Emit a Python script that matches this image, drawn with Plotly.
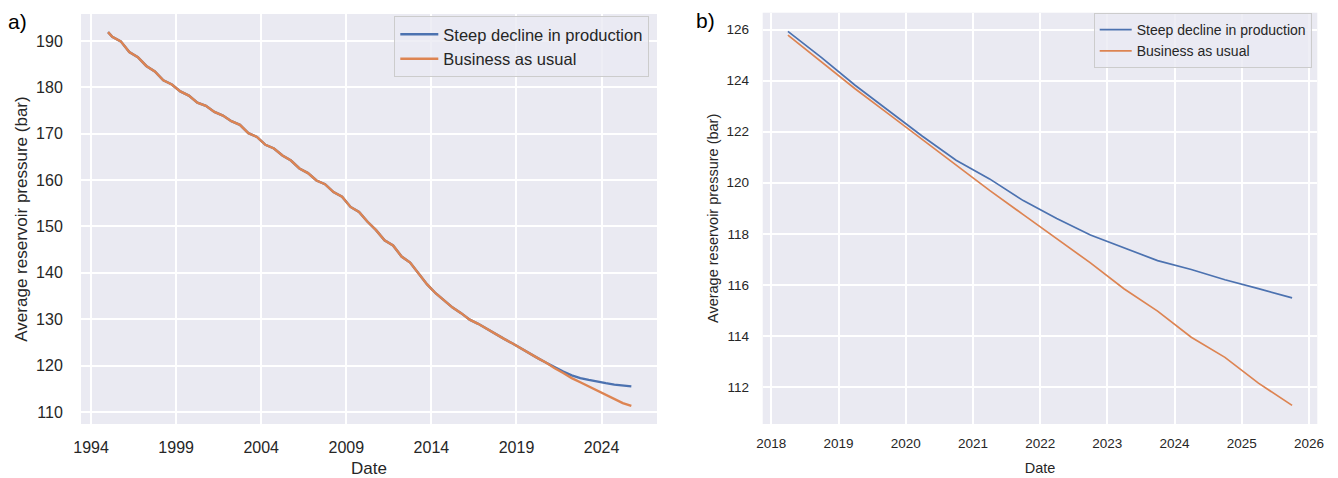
import plotly.graph_objects as go

# ---------------- Panel a: full history 1995-2025 ----------------
hist_dates_a = [
    "1995-01-01", "1995-04-01", "1995-10-01", "1996-04-01", "1996-10-01",
    "1997-04-01", "1997-10-01", "1998-04-01", "1998-10-01", "1999-04-01",
    "1999-10-01", "2000-04-01", "2000-10-01", "2001-04-01", "2001-10-01",
    "2002-04-01", "2002-10-01", "2003-04-01", "2003-10-01", "2004-04-01",
    "2004-10-01", "2005-04-01", "2005-10-01", "2006-04-01", "2006-10-01",
    "2007-04-01", "2007-10-01", "2008-04-01", "2008-10-01", "2009-04-01",
    "2009-10-01", "2010-04-01", "2010-10-01", "2011-04-01", "2011-10-01",
    "2012-04-01", "2012-10-01", "2013-04-01", "2013-10-01", "2014-04-01",
    "2014-10-01", "2015-04-01", "2015-10-01", "2016-04-01", "2016-10-01",
    "2017-04-01", "2017-10-01", "2018-04-01", "2018-10-01", "2019-04-01",
    "2019-10-01", "2020-04-01", "2020-10-01",
]
hist_pressure_a = [
    191.9, 190.9, 189.9, 187.6, 186.5,
    184.6, 183.4, 181.5, 180.6, 179.1,
    178.2, 176.7, 176.0, 174.7, 173.9,
    172.7, 171.9, 170.1, 169.3, 167.6,
    166.8, 165.3, 164.2, 162.5, 161.5,
    159.9, 159.1, 157.4, 156.4, 154.2,
    153.1, 151.0, 149.2, 147.0, 145.9,
    143.5, 142.2, 139.8, 137.5, 135.6,
    134.0, 132.5, 131.3, 129.9, 129.0,
    127.9, 126.9, 125.8, 124.8, 123.7,
    122.7, 121.6, 120.6,
]

scen_dates_a = [
    "2021-04-01", "2021-10-01", "2022-04-01", "2022-10-01", "2023-04-01",
    "2023-10-01", "2024-04-01", "2024-10-01", "2025-04-01", "2025-10-01",
]
steep_pressure_a = [119.6, 118.7, 117.9, 117.3, 116.9, 116.5, 116.2, 115.9, 115.7, 115.5]
bau_pressure_a = [119.4, 118.4, 117.3, 116.4, 115.5, 114.6, 113.7, 112.8, 111.9, 111.3]

tick_years_a = [1994, 1999, 2004, 2009, 2014, 2019, 2024]
yticks_a = [110, 120, 130, 140, 150, 160, 170, 180, 190]

# ---------------- Panel b: forecast window 2018-2025 ----------------
dates_b = [
    "2018-04-01", "2018-10-01", "2019-04-01", "2019-10-01", "2020-04-01",
    "2020-10-01", "2021-04-01", "2021-10-01", "2022-04-01", "2022-10-01",
    "2023-04-01", "2023-10-01", "2024-04-01", "2024-10-01", "2025-04-01",
    "2025-10-01",
]
steep_pressure_b = [125.93, 124.9, 123.82, 122.82, 121.82, 120.88, 120.15, 119.3,
                    118.6, 117.95, 117.45, 116.95, 116.6, 116.2, 115.85, 115.49]
bau_pressure_b = [125.78, 124.72, 123.68, 122.69, 121.68, 120.67, 119.7, 118.75,
                  117.8, 116.86, 115.85, 114.97, 113.95, 113.16, 112.15, 111.28]

tick_years_b = [2018, 2019, 2020, 2021, 2022, 2023, 2024, 2025, 2026]
yticks_b = [112, 114, 116, 118, 120, 122, 124, 126]

series_names = ["Steep decline in production", "Business as usual"]

BLUE = "#4C72B0"
ORANGE = "#DD8452"
BG = "#EAEAF2"
TXT = "#262626"
FONT = "Liberation Sans, Arial, sans-serif"

W, H = 1338, 478


def px_x(p):
    return p / W


def px_y(p):
    return 1 - p / H


fig = go.Figure()

# panel a traces (the business-as-usual line is drawn last, on top)
fig.add_trace(go.Scatter(
    x=hist_dates_a + scen_dates_a, y=hist_pressure_a + steep_pressure_a,
    mode="lines", name=series_names[0], line=dict(color=BLUE, width=2.4),
    xaxis="x", yaxis="y", legend="legend"))
fig.add_trace(go.Scatter(
    x=hist_dates_a + scen_dates_a, y=hist_pressure_a + bau_pressure_a,
    mode="lines", name=series_names[1], line=dict(color=ORANGE, width=2.4),
    xaxis="x", yaxis="y", legend="legend"))

# panel b traces
fig.add_trace(go.Scatter(
    x=dates_b, y=steep_pressure_b, mode="lines", name=series_names[0],
    line=dict(color=BLUE, width=1.7), xaxis="x2", yaxis="y2", legend="legend2"))
fig.add_trace(go.Scatter(
    x=dates_b, y=bau_pressure_b, mode="lines", name=series_names[1],
    line=dict(color=ORANGE, width=1.7), xaxis="x2", yaxis="y2", legend="legend2"))

common_axis = dict(showline=False, zeroline=False, showgrid=True, gridcolor="white",
                   tickcolor="rgba(0,0,0,0)", ticks="outside", automargin=False)

fig.update_layout(
    width=W, height=H,
    margin=dict(l=0, r=0, t=0, b=0),
    paper_bgcolor="white",
    plot_bgcolor=BG,
    font=dict(family=FONT, color=TXT),
    xaxis=dict(
        **common_axis,
        domain=[px_x(81), px_x(657)],
        anchor="y",
        type="date",
        range=["1993-05-30", "2027-04-05"],
        tickvals=[f"{y}-01-01" for y in tick_years_a],
        ticktext=[str(y) for y in tick_years_a],
        tickfont=dict(size=16),
        ticklen=9,
        gridwidth=2,
        title=dict(text="Date", font=dict(size=17), standoff=6),
    ),
    yaxis=dict(
        **common_axis,
        domain=[px_y(424), px_y(14)],
        anchor="x",
        range=[107.4, 195.8],
        tickvals=yticks_a,
        tickfont=dict(size=16),
        ticklen=14,
        gridwidth=2,
        title=dict(text="Average reservoir pressure (bar)", font=dict(size=17), standoff=4),
    ),
    xaxis2=dict(
        **common_axis,
        domain=[px_x(762.7), px_x(1317.3)],
        anchor="y2",
        type="date",
        range=["2017-11-15", "2026-02-15"],
        tickvals=[f"{y}-01-01" for y in tick_years_b],
        ticktext=[str(y) for y in tick_years_b],
        tickfont=dict(size=13.5),
        ticklen=7,
        gridwidth=1.5,
        title=dict(text="Date", font=dict(size=14.5), standoff=12),
    ),
    yaxis2=dict(
        **common_axis,
        domain=[px_y(424), px_y(12.7)],
        anchor="x2",
        range=[110.55, 126.66],
        tickvals=yticks_b,
        tickfont=dict(size=13.5),
        ticklen=10,
        gridwidth=1.5,
        title=dict(text="Average reservoir pressure (bar)", font=dict(size=14.5), standoff=4),
    ),
    legend=dict(
        x=px_x(649.3), y=px_y(16), xanchor="right", yanchor="top",
        bgcolor="rgba(234,234,242,0.8)", bordercolor="#CCCCCC", borderwidth=1,
        font=dict(size=16.5, color=TXT), tracegroupgap=0, itemwidth=38,
    ),
    legend2=dict(
        x=px_x(1311.7), y=px_y(13), xanchor="right", yanchor="top",
        bgcolor="rgba(234,234,242,0.8)", bordercolor="#CCCCCC", borderwidth=1,
        font=dict(size=14, color=TXT), tracegroupgap=0, itemwidth=32,
    ),
    showlegend=True,
    annotations=[
        dict(text="a)", x=px_x(6), y=px_y(22), xref="paper", yref="paper",
             xanchor="left", yanchor="middle", showarrow=False,
             font=dict(size=21, color="black")),
        dict(text="b)", x=px_x(694), y=px_y(20), xref="paper", yref="paper",
             xanchor="left", yanchor="middle", showarrow=False,
             font=dict(size=21, color="black")),
    ],
)

fig.write_html("out.html")
